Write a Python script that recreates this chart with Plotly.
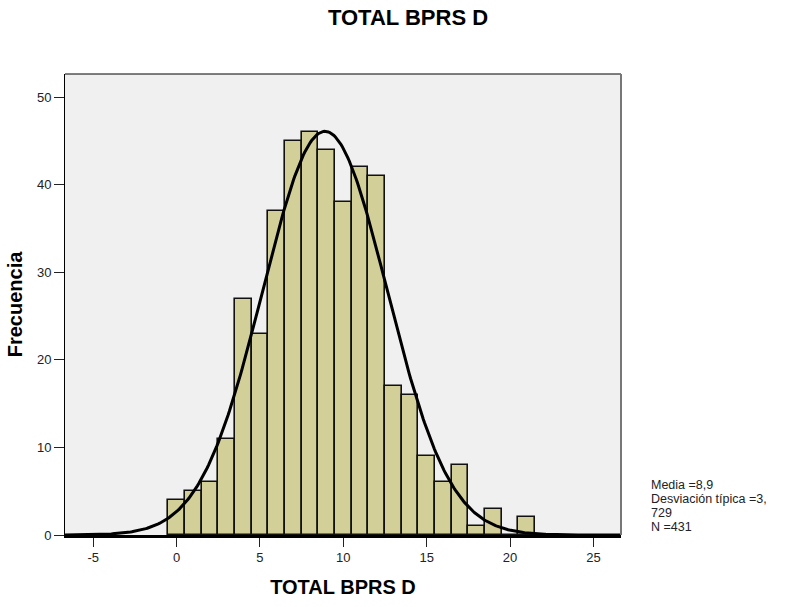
import numpy as np
import plotly.graph_objects as go

# Histogram data (bin centres, counts)
bin_centers = [0, 1, 2, 3, 4, 5, 6, 7, 8, 9, 10, 11, 12, 13, 14, 15, 16, 17, 18, 19, 20, 21]
counts = [4, 5, 6, 11, 27, 23, 37, 45, 46, 44, 38, 42, 41, 17, 16, 9, 6, 8, 1, 3, 0, 2]

mean_val = 8.9
sd_val = 3.729
n_val = 431
bin_width = 1

x_ticks = [-5, 0, 5, 10, 15, 20, 25]
y_ticks = [0, 10, 20, 30, 40, 50]

stats_lines = ["Media =8,9", "Desviación típica =3,", "729", "N =431"]

x_range = [-6.69, 26.65]
y_range = [0, 52.66]

# Fitted normal curve
xs = np.linspace(x_range[0], x_range[1], 400)
ys = n_val * bin_width / (sd_val * np.sqrt(2 * np.pi)) * np.exp(-0.5 * ((xs - mean_val) / sd_val) ** 2)

fig = go.Figure()
fig.add_trace(go.Bar(
    x=bin_centers, y=counts, width=bin_width,
    marker=dict(color="#D3CF98", line=dict(color="#111111", width=1.6)),
    showlegend=False, hoverinfo="x+y",
))
fig.add_trace(go.Scatter(
    x=xs, y=ys, mode="lines",
    line=dict(color="black", width=3),
    showlegend=False, hoverinfo="skip",
))

font_family = "Liberation Sans, Arial, sans-serif"
W, H = 787, 607
ML, MR, MT, MB = 65, 166, 74, 72
PW, PH = W - ML - MR, H - MT - MB

def px_to_paper_x(px):
    return (px - ML) / PW

def px_to_paper_y(py):
    return (H - MB - py) / PH

annotations = []
stat_y = [484.5, 498.7, 512.9, 527.1]
for txt, yy in zip(stats_lines, stat_y):
    annotations.append(dict(
        text=txt, xref="paper", yref="paper",
        x=px_to_paper_x(650), y=px_to_paper_y(yy),
        xanchor="left", yanchor="middle", align="left", showarrow=False,
        borderpad=0,
        font=dict(size=12.5, color="#222222", family=font_family)))

fig.update_layout(
    width=W, height=H,
    margin=dict(l=ML, r=MR, t=MT, b=MB),
    paper_bgcolor="white",
    plot_bgcolor="#F0F0F0",
    font=dict(family=font_family, size=13, color="#222222"),
    bargap=0,
    title=dict(text="<b>TOTAL BPRS D</b>", x=408 / W, xanchor="center",
               y=1 - 17 / H, yanchor="middle",
               font=dict(size=22, color="black", family=font_family)),
    xaxis=dict(
        range=x_range, tickvals=x_ticks, ticktext=[str(v) for v in x_ticks],
        ticks="outside", ticklen=9, tickwidth=1, tickcolor="#222222",
        showgrid=False, zeroline=False,
        showline=True, linecolor="black", linewidth=2.5,
        title=dict(text="<b>TOTAL BPRS D</b>", standoff=16,
                   font=dict(size=20, color="black", family=font_family)),
        tickfont=dict(size=13),
    ),
    yaxis=dict(
        range=y_range, tickvals=y_ticks, ticktext=[str(v) for v in y_ticks],
        ticks="outside", ticklen=10, tickwidth=1, tickcolor="#222222",
        showgrid=False, zeroline=False,
        showline=True, linecolor="black", linewidth=1,
        title=dict(text="<b>Frecuencia</b>", standoff=8,
                   font=dict(size=20, color="black", family=font_family)),
        tickfont=dict(size=13),
    ),
    shapes=[
        dict(type="line", xref="paper", yref="paper", x0=0, x1=1, y0=1, y1=1,
             line=dict(color="black", width=1)),
        dict(type="line", xref="paper", yref="paper", x0=1, x1=1, y0=0, y1=1,
             line=dict(color="#777777", width=2)),
    ],
    annotations=annotations,
)

fig.write_html("out.html")
